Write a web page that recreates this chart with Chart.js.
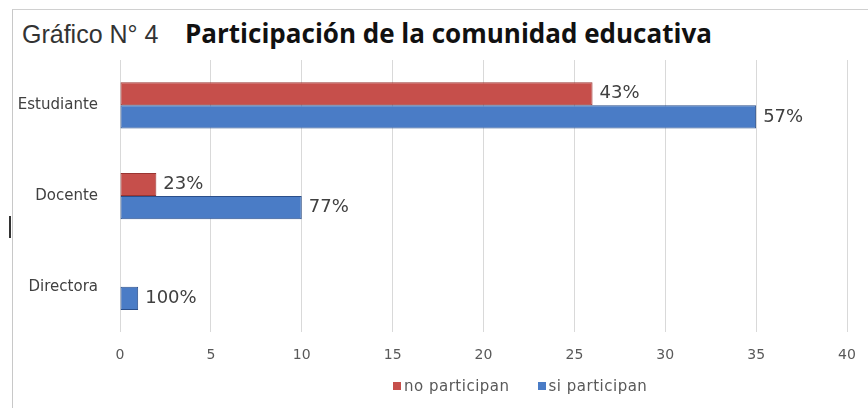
<!DOCTYPE html>
<html>
<head>
<meta charset="utf-8">
<script src="https://cdn.jsdelivr.net/npm/chart.js@4"></script>
<style>
  body { margin: 0; background: #fff; }
  #wrap { position: relative; width: 868px; height: 408px; overflow: hidden; }
  #frame { position: absolute; left: 12px; top: 9px; width: 900px; height: 420px; border-left: 1px solid #c8c8c8; border-top: 1px solid #d0d0d0; }
  #mark { position: absolute; left: 9px; top: 216px; width: 2px; height: 22px; background: #333; }
  #sub { position: absolute; left: 22px; top: 20px; font: 25px "Liberation Sans Narrow", sans-serif; color: #333; }
  #title { position: absolute; left: 185px; top: 15px; font: bold 26px "Open Sans", sans-serif; color: #111; }
  #legend { position: absolute; left: 379px; top: 377px; white-space: nowrap; font: 15px "DejaVu Sans", sans-serif; letter-spacing: 0.5px; color: #595959; }
  #legend span { display: inline-block; margin: 0 14px; }
  #legend i { display: inline-block; width: 8px; height: 8px; margin-right: 3px; vertical-align: 1px; }
  canvas { position: absolute; left: 0; top: 0; }
</style>
</head>
<body>
<div id="wrap">
  <div id="frame"></div>
  <div id="mark"></div>
  <div id="sub">Gráfico N° 4</div>
  <div id="title">Participación de la comunidad educativa</div>
  <canvas id="chart" width="868" height="408"></canvas>
  <div id="legend"></div>
</div>
<script>
// categories and series
var categories = ['Estudiante', 'Docente', 'Directora'];
var noParticipan = [26, 2, 0];
var siParticipan = [35, 10, 1];
var noLabels = ['43%', '23%', ''];
var siLabels = ['57%', '77%', '100%'];
var xTicks = [0, 5, 10, 15, 20, 25, 30, 35, 40];

// draws the percentage text at the end of each bar
var barLabels = {
    id: 'barLabels',
    afterDatasetsDraw: function (chart) {
        var ctx = chart.ctx;
        ctx.save();
        ctx.font = '18px "DejaVu Sans", sans-serif';
        ctx.fillStyle = '#404040';
        ctx.textBaseline = 'middle';
        ctx.textAlign = 'left';
        chart.data.datasets.forEach(function (ds, i) {
            chart.getDatasetMeta(i).data.forEach(function (bar, j) {
                var txt = ds.pctLabels[j];
                if (txt) ctx.fillText(txt, bar.x + 7, bar.y);
            });
        });
        ctx.restore();
    }
};

var chart = new Chart(document.getElementById('chart').getContext('2d'), {
    type: 'bar',
    data: {
        labels: categories,
        datasets: [{
            label: 'no participan',
            data: noParticipan,
            pctLabels: noLabels,
            backgroundColor: '#C64F4B',
            borderColor: '#9A3532',
            borderWidth: 1,
            borderSkipped: false
        }, {
            label: 'si participan',
            data: siParticipan,
            pctLabels: siLabels,
            backgroundColor: '#4A7CC6',
            borderColor: '#2B4F8A',
            borderWidth: 1,
            borderSkipped: false
        }]
    },
    options: {
        indexAxis: 'y',
        responsive: false,
        animation: false,
        categoryPercentage: 0.51,
        barPercentage: 1,
        layout: { padding: { top: 60, right: 0, bottom: 29, left: 0 } },
        scales: {
            x: {
                min: 0,
                max: 40,
                afterBuildTicks: function (scale) {
                    scale.ticks = xTicks.map(function (v) { return { value: v }; });
                },
                // keep the plot's right edge where the reference has it
                afterFit: function (scale) { scale.paddingRight = 21; },
                grid: { color: '#D9D9D9', drawTicks: false },
                border: { display: false },
                ticks: { padding: 15, color: '#595959', font: { family: 'DejaVu Sans', size: 14 } }
            },
            y: {
                afterFit: function (scale) { scale.width = 120; },
                grid: { display: false },
                border: { display: false },
                ticks: { padding: 14, color: '#404040', font: { family: 'DejaVu Sans', size: 15 } }
            }
        },
        plugins: {
            legend: { display: false },
            tooltip: { enabled: false }
        }
    },
    plugins: [barLabels]
});

// legend in html, from the datasets
document.getElementById('legend').innerHTML = chart.data.datasets.map(function (ds) {
    return '<span><i style="background:' + ds.backgroundColor + '"></i>' + ds.label + '</span>';
}).join('');
</script>
</body>
</html>
